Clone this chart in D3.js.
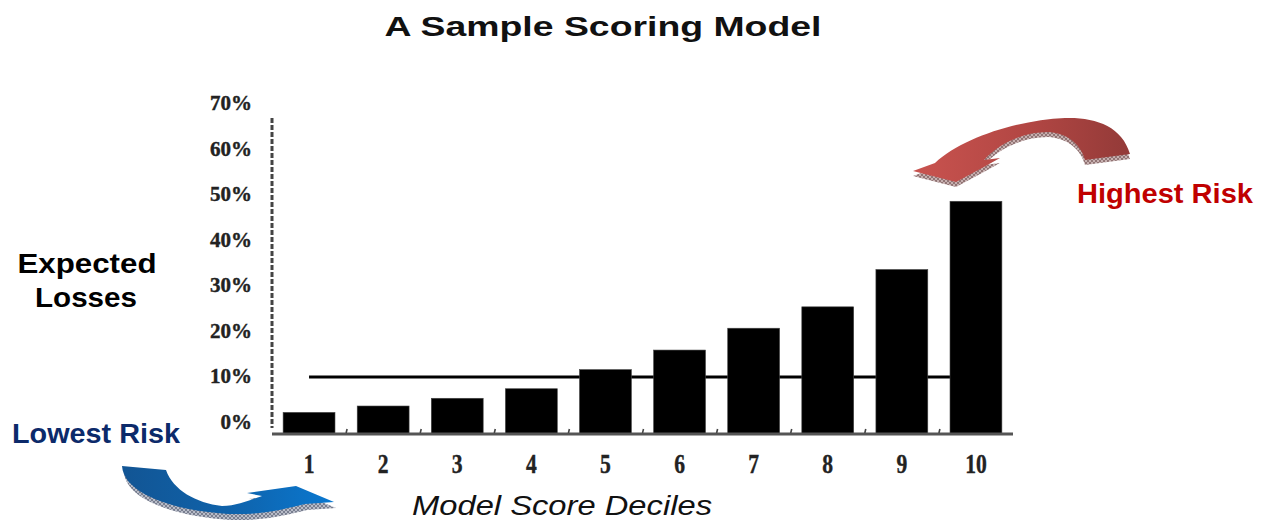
<!DOCTYPE html>
<html>
<head>
<meta charset="utf-8">
<script src="https://cdn.jsdelivr.net/npm/d3@7/dist/d3.min.js"></script>
<style>
  html, body { margin: 0; padding: 0; background: #fff; }
  svg { display: block; }
</style>
</head>
<body>
<script>
// ---- data ----
const categories = ["1", "2", "3", "4", "5", "6", "7", "8", "9", "10"];
const lossValues = [0.020, 0.034, 0.051, 0.072, 0.114, 0.157, 0.205, 0.252, 0.334, 0.484];
const benchmark = 0.098;
const yTicks = [0, 0.1, 0.2, 0.3, 0.4, 0.5, 0.6, 0.7];
const titleText = "A Sample Scoring Model";
const xAxisTitle = "Model Score Deciles";
const yAxisTitle = ["Expected", "Losses"];
const lowLabel = "Lowest Risk";
const highLabel = "Highest Risk";

const W = 1265, H = 525;
const svg = d3.select("body").append("svg").attr("width", W).attr("height", H);

const x = d3.scaleBand().domain(categories).range([272, 1013]).paddingInner(0.3).paddingOuter(0.15);
const y = d3.scaleLinear().domain([-0.0275, 0.7]).range([434, 103]);

// defs
const defs = svg.append("defs");
const gRed = defs.append("linearGradient").attr("id", "gRed").attr("x1", "0").attr("x2", "1").attr("y1", "0").attr("y2", "0");
gRed.append("stop").attr("offset", "0").attr("stop-color", "#c9534f");
gRed.append("stop").attr("offset", "0.55").attr("stop-color", "#b14643");
gRed.append("stop").attr("offset", "1").attr("stop-color", "#933a38");
const gBlue = defs.append("linearGradient").attr("id", "gBlue").attr("x1", "0").attr("x2", "1").attr("y1", "0").attr("y2", "0");
gBlue.append("stop").attr("offset", "0").attr("stop-color", "#125594");
gBlue.append("stop").attr("offset", "0.5").attr("stop-color", "#0f62aa");
gBlue.append("stop").attr("offset", "1").attr("stop-color", "#0a78d0");
function hatch(id, bg, fg) {
  const p = defs.append("pattern").attr("id", id).attr("patternUnits", "userSpaceOnUse").attr("width", 4).attr("height", 4);
  p.append("rect").attr("width", 4).attr("height", 4).attr("fill", bg);
  p.append("path").attr("d", "M0,4 L4,0 M0,0 L4,4").attr("stroke", fg).attr("stroke-width", 0.7);
}
hatch("hRed", "#c7b0b0", "#7a5a5a");
hatch("hBlue", "#b8bcc8", "#5d6478");

// title
svg.append("text").attr("x", 603).attr("y", 36).attr("text-anchor", "middle")
  .attr("font-family", "Liberation Sans, Arial, sans-serif").attr("font-weight", "bold")
  .attr("font-size", 28).attr("textLength", 437).attr("lengthAdjust", "spacingAndGlyphs")
  .attr("fill", "#111").text(titleText);

// y-axis dashed line
svg.append("line").attr("x1", 272).attr("x2", 272).attr("y1", 118).attr("y2", 428)
  .attr("stroke", "#444").attr("stroke-width", 3).attr("stroke-dasharray", "5,2");

// y tick labels
svg.append("g").selectAll("text").data(yTicks).join("text")
  .attr("x", 252).attr("y", d => y(d)).attr("dy", "0.35em").attr("text-anchor", "end")
  .attr("font-family", "Liberation Serif, Times New Roman, serif").attr("font-weight", "bold")
  .attr("font-size", 21).attr("fill", "#222")
  .attr("stroke", "#222").attr("stroke-width", 0.4)
  .text(d => d3.format(".0%")(d));

// benchmark line
svg.append("line")
  .attr("x1", x(categories[0]) + x.bandwidth() / 2)
  .attr("x2", x(categories[categories.length - 1]) + x.bandwidth() / 2)
  .attr("y1", y(benchmark)).attr("y2", y(benchmark))
  .attr("stroke", "#000").attr("stroke-width", 3);

// bars
svg.append("g").selectAll("rect").data(lossValues).join("rect")
  .attr("x", (d, i) => x(categories[i]))
  .attr("width", x.bandwidth())
  .attr("y", d => y(d))
  .attr("height", d => y(y.domain()[0]) - y(d))
  .attr("fill", "#000").attr("stroke", "#444").attr("stroke-width", 0.6);

// baseline
const [r0, r1] = x.range();
svg.append("line").attr("x1", r0).attr("x2", r1).attr("y1", y(y.domain()[0])).attr("y2", y(y.domain()[0]))
  .attr("stroke", "#555").attr("stroke-width", 3);

// small ticks between bars
const gap = x.step() - x.bandwidth();
svg.append("g").selectAll("line").data(categories.slice(0, -1)).join("line")
  .attr("x1", d => x(d) + x.bandwidth() + gap / 2)
  .attr("x2", d => x(d) + x.bandwidth() + gap / 2 + 1)
  .attr("y1", y(y.domain()[0]) - 1).attr("y2", y(y.domain()[0]) - 5)
  .attr("stroke", "#444").attr("stroke-width", 1.6);

// x labels
svg.append("g").selectAll("text").data(categories).join("text")
  .attr("transform", d => `translate(${x(d) + x.bandwidth() / 2},473) scale(0.8,1)`)
  .attr("text-anchor", "middle")
  .attr("font-family", "Liberation Serif, Times New Roman, serif").attr("font-weight", "bold")
  .attr("font-size", 27).attr("fill", "#222")
  .attr("stroke", "#222").attr("stroke-width", 0.4).text(d => d);

// x-axis title
svg.append("text").attr("x", 562).attr("y", 515).attr("text-anchor", "middle")
  .attr("font-family", "Liberation Sans, Arial, sans-serif").attr("font-style", "italic")
  .attr("font-size", 28).attr("textLength", 300).attr("lengthAdjust", "spacingAndGlyphs")
  .attr("fill", "#111").text(xAxisTitle);

// y-axis title
const yt = svg.append("text").attr("text-anchor", "middle")
  .attr("font-family", "Liberation Sans, Arial, sans-serif").attr("font-weight", "bold")
  .attr("font-size", 27).attr("fill", "#000");
yt.append("tspan").attr("x", 87).attr("y", 273).attr("textLength", 139).attr("lengthAdjust", "spacingAndGlyphs").text(yAxisTitle[0]);
yt.append("tspan").attr("x", 86).attr("y", 307).attr("textLength", 102).attr("lengthAdjust", "spacingAndGlyphs").text(yAxisTitle[1]);

// risk labels
svg.append("text").attr("x", 12).attr("y", 443)
  .attr("font-family", "Liberation Sans, Arial, sans-serif").attr("font-weight", "bold")
  .attr("font-size", 27).attr("textLength", 168).attr("lengthAdjust", "spacingAndGlyphs")
  .attr("fill", "#0c2a6a").text(lowLabel);
svg.append("text").attr("x", 1077).attr("y", 203)
  .attr("font-family", "Liberation Sans, Arial, sans-serif").attr("font-weight", "bold")
  .attr("font-size", 27).attr("textLength", 176).attr("lengthAdjust", "spacingAndGlyphs")
  .attr("fill", "#c00000").text(highLabel);

// decorative arrows
const redArrow = "M1130,154 C1122,126 1095,117 1065,118 C1018,120 962,138 935,163 L913,171 L956,182 L982,168 L1000,158 L984,160 C1000,142 1025,132 1048,132 C1068,133 1081,145 1085,160 Z";
const blueArrow = "M122,466 L166,470 C173,490 196,503 222,506 C238,506 250,500 262,496 L247,493 L296,486 L334,502 L305,504 C285,509 262,515 228,514 C180,511 124,496 122,466 Z";
svg.append("path").attr("d", redArrow).attr("transform", "translate(0,5)").attr("fill", "url(#hRed)");
svg.append("path").attr("d", redArrow).attr("fill", "url(#gRed)");
svg.append("path").attr("d", blueArrow).attr("transform", "translate(2,6)").attr("fill", "url(#hBlue)");
svg.append("path").attr("d", blueArrow).attr("fill", "url(#gBlue)");
</script>
</body>
</html>
